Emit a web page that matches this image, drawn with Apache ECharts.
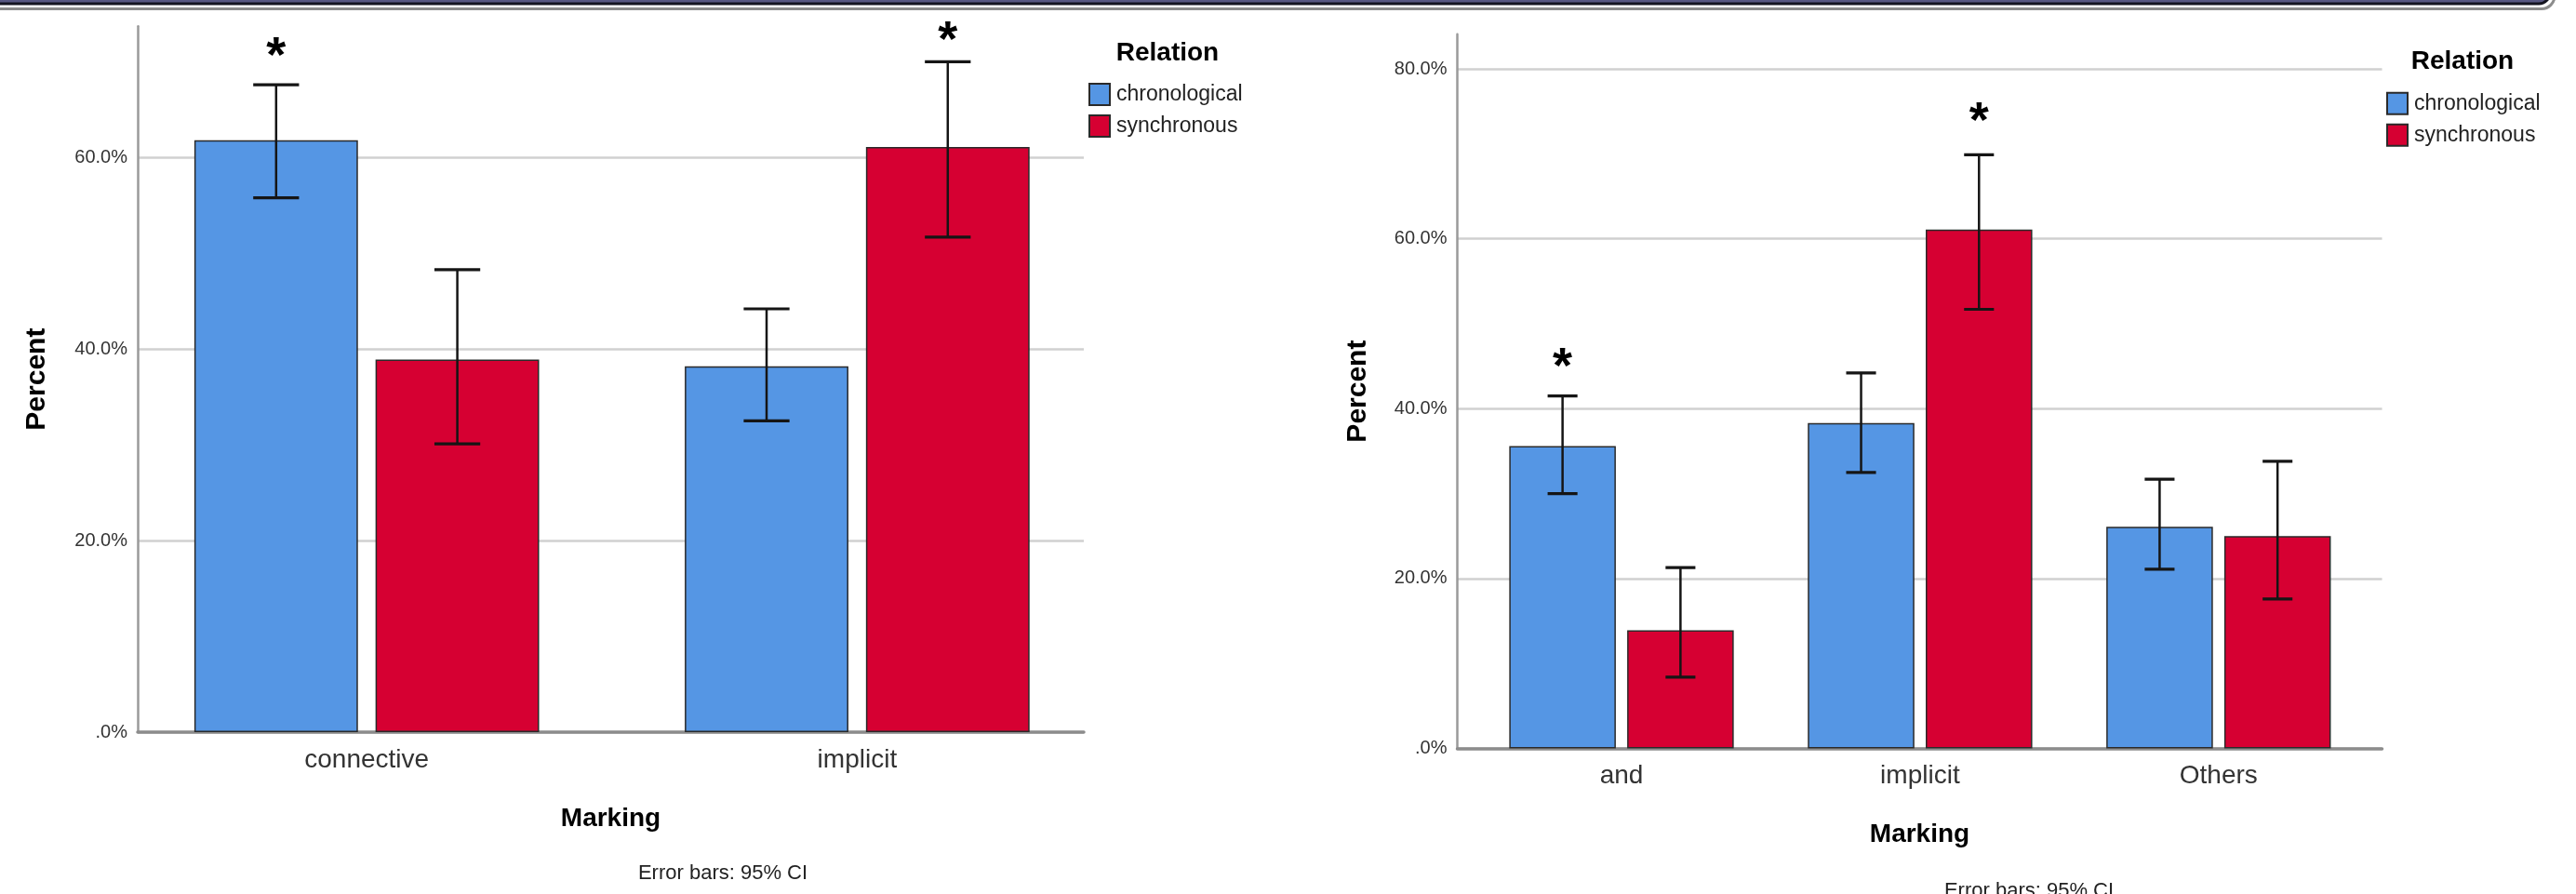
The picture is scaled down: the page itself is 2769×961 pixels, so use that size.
<!DOCTYPE html>
<html><head><meta charset="utf-8">
<script src="https://cdn.jsdelivr.net/npm/echarts@6/dist/echarts.min.js"></script>
<style>html,body{margin:0;padding:0;background:#fff}#c{width:2769px;height:961px}</style>
</head><body><div id="c"></div>
<script>
// ---------- data ----------
const relations = ['chronological', 'synchronous'];

// Chart 1 (left)
const c1Categories = ['connective', 'implicit'];
const c1Chron = [61.8, 38.2];
const c1ChronLow = [55.8, 32.5];
const c1ChronHigh = [67.6, 44.2];
const c1Sync = [38.9, 61.1];
const c1SyncLow = [30.1, 51.7];
const c1SyncHigh = [48.3, 70.0];
const c1ChronStar = [71.6, null];
const c1SyncStar = [null, 73.2];
const c1YMax = 73.7;
const c1TickLabels = ['.0%', '20.0%', '40.0%', '60.0%'];

// Chart 2 (right)
const c2Categories = ['and', 'implicit', 'Others'];
const c2Chron = [35.6, 38.3, 26.1];
const c2ChronLow = [30.0, 32.5, 21.1];
const c2ChronHigh = [41.5, 44.2, 31.7];
const c2Sync = [13.9, 61.1, 25.0];
const c2SyncLow = [8.4, 51.7, 17.6];
const c2SyncHigh = [21.3, 69.9, 33.8];
const c2ChronStar = [46.0, null, null];
const c2SyncStar = [null, 75.0, null];
const c2YMax = 84.1;
const c2TickLabels = ['.0%', '20.0%', '40.0%', '60.0%', '80.0%'];

const yName = 'Percent';
const xName = 'Marking';
const legendTitle = 'Relation';
const footnote = 'Error bars: 95% CI';

// ---------- style ----------
const FONT = '"Liberation Sans", Arial, sans-serif';
const BLUE = '#5596E4';
const RED = '#D60032';
const STAR_FONT = 54;

function errorRender(pos, n, catGap, barGap) {
  return function (params, api) {
    const cat = api.value(0), lo = api.value(1), hi = api.value(2), star = api.value(3);
    const band = api.size([1, 0])[0];
    const bw = band * (1 - catGap) / (n + (n - 1) * barGap);
    const groupW = bw * n + bw * barGap * (n - 1);
    const cx = api.coord([cat, 0])[0] - groupW / 2 + pos * bw * (1 + barGap) + bw / 2;
    const children = [];
    if (isFinite(lo) && isFinite(hi)) {
      const yl = api.coord([cat, lo])[1], yh = api.coord([cat, hi])[1];
      const cap = bw * 0.28;
      const st = { stroke: '#151515', lineWidth: 2.5 };
      const cst = { stroke: '#151515', lineWidth: 3.2 };
      children.push({ type: 'line', shape: { x1: cx, y1: yh, x2: cx, y2: yl }, style: st });
      children.push({ type: 'line', shape: { x1: cx - cap / 2, y1: yh, x2: cx + cap / 2, y2: yh }, style: cst });
      children.push({ type: 'line', shape: { x1: cx - cap / 2, y1: yl, x2: cx + cap / 2, y2: yl }, style: cst });
    }
    if (isFinite(star)) {
      const ys = api.coord([cat, star])[1];
      children.push({ type: 'text', x: cx, y: ys + STAR_FONT * 0.22,
        style: { text: '*', fontSize: STAR_FONT, fontWeight: 'bold', fontFamily: FONT, fill: '#000',
                 align: 'center', verticalAlign: 'middle' } });
    }
    return { type: 'group', children };
  };
}

function ciData(low, high, star) {
  return low.map((l, i) => [i, l, high[i], star[i] == null ? NaN : star[i]]);
}

function tickFormatter(labels) {
  return function (v) {
    const i = Math.round(v / 20);
    return Math.abs(v - i * 20) < 1e-6 && labels[i] !== undefined ? labels[i] : '';
  };
}

const W = 2769, H = 961;
// pixel geometry for the two charts
const L = { axisL: 148, axisR: 1165, barsL: 130.6, barsR: 1185, top: 28.3, bottom: 787, catGap: 0.297, barGap: 0.1075 };
const R = { axisL: 1566.5, axisR: 2560.5, barsL: 1582.55, barsR: 2545.25, top: 36.7, bottom: 804.5, catGap: 0.248, barGap: 0.1065 };

function grids(g) {
  return [
    { left: g.axisL, right: W - g.axisR, top: g.top, bottom: H - g.bottom, outerBoundsMode: 'none' },
    { left: g.barsL, right: W - g.barsR, top: g.top, bottom: H - g.bottom, outerBoundsMode: 'none' }
  ];
}

function axisX(gridIndex, nameGap) {
  return {
    type: 'value', gridIndex, min: 0, max: 1,
    axisLine: { show: true, lineStyle: { color: '#8c8c8c', width: 3.5 } },
    axisTick: { show: false }, axisLabel: { show: false }, splitLine: { show: false },
    name: xName, nameLocation: 'middle', nameGap, nameMoveOverlap: false,
    nameTextStyle: { fontSize: 28, fontWeight: 'bold', color: '#000', fontFamily: FONT }
  };
}
function barsX(gridIndex, cats) {
  return {
    type: 'category', gridIndex, data: cats,
    axisLine: { show: false }, axisTick: { show: false }, splitLine: { show: false },
    axisLabel: { fontSize: 28, color: '#333', margin: 16, fontFamily: FONT, interval: 0 }
  };
}
function axisY(gridIndex, max, labels, nameGap) {
  return {
    type: 'value', gridIndex, min: 0, max, interval: 20,
    axisLine: { show: true, onZero: false, lineStyle: { color: '#9a9a9a', width: 2.5 } },
    axisTick: { show: false },
    axisLabel: { fontSize: 20, color: '#333', margin: 11, fontFamily: FONT, formatter: tickFormatter(labels), showMaxLabel: false },
    splitLine: { show: true, showMaxLine: false, lineStyle: { color: '#d0d0d0', width: 2.5 } },
    name: yName, nameLocation: 'middle', nameGap, nameRotate: 90, nameMoveOverlap: false,
    nameTextStyle: { fontSize: 30, fontWeight: 'bold', color: '#000', fontFamily: FONT }
  };
}
function barsY(gridIndex, max) {
  return { type: 'value', gridIndex, min: 0, max, interval: 20, show: false, splitLine: { show: false } };
}

function barSeries(name, color, xi, yi, data, g) {
  return {
    type: 'bar', name, xAxisIndex: xi, yAxisIndex: yi, data,
    barCategoryGap: (g.catGap * 100) + '%', barGap: (g.barGap * 100) + '%',
    itemStyle: { color, borderColor: '#2a2a2a', borderWidth: 1.5 },
    emphasis: { disabled: true }, z: 2
  };
}
function ciSeries(name, xi, yi, data, pos, n, g) {
  return {
    type: 'custom', name, xAxisIndex: xi, yAxisIndex: yi, data,
    renderItem: errorRender(pos, n, g.catGap, g.barGap), z: 5, silent: true,
    encode: { x: 0, y: [1, 2] }
  };
}

const option = {
  animation: false,
  backgroundColor: '#fff',
  textStyle: { fontFamily: FONT },
  grid: [...grids(L), ...grids(R)],
  xAxis: [axisX(0, 79), barsX(1, c1Categories), axisX(2, 78.5), barsX(3, c2Categories)],
  yAxis: [axisY(0, c1YMax, c1TickLabels, 93), barsY(1, c1YMax), axisY(2, c2YMax, c2TickLabels, 91.5), barsY(3, c2YMax)],
  legend: [
    { data: relations, orient: 'vertical', left: 1170, top: 89, itemWidth: 22, itemHeight: 23, itemGap: 9, padding: 0,
      icon: 'rect', selectedMode: false, textStyle: { fontSize: 23, color: '#222', fontFamily: FONT, padding: [0, 0, 0, 2] } },
    { data: relations, orient: 'vertical', left: 2565, top: 98.7, itemWidth: 22, itemHeight: 23, itemGap: 9, padding: 0,
      icon: 'rect', selectedMode: false, textStyle: { fontSize: 23, color: '#222', fontFamily: FONT, padding: [0, 0, 0, 2] } }
  ],
  series: [
    barSeries(relations[0], BLUE, 1, 1, c1Chron, L),
    barSeries(relations[1], RED, 1, 1, c1Sync, L),
    ciSeries('ci1a', 1, 1, ciData(c1ChronLow, c1ChronHigh, c1ChronStar), 0, 2, L),
    ciSeries('ci1b', 1, 1, ciData(c1SyncLow, c1SyncHigh, c1SyncStar), 1, 2, L),
    barSeries(relations[0], BLUE, 3, 3, c2Chron, R),
    barSeries(relations[1], RED, 3, 3, c2Sync, R),
    ciSeries('ci2a', 3, 3, ciData(c2ChronLow, c2ChronHigh, c2ChronStar), 0, 2, R),
    ciSeries('ci2b', 3, 3, ciData(c2SyncLow, c2SyncHigh, c2SyncStar), 1, 2, R)
  ],
  graphic: [
    // window frame at the top
    { type: 'rect', shape: { x: -20, y: -40, width: 2766, height: 49.5, r: 14 }, style: { fill: 'none', stroke: '#8c8c8c', lineWidth: 3 }, silent: true },
    { type: 'rect', shape: { x: -20, y: -40, width: 2761, height: 44, r: 12 }, style: { fill: '#585882', stroke: '#151520', lineWidth: 3 }, silent: true },
    { type: 'text', x: 1255, y: 57, style: { text: legendTitle, fontSize: 28, fontWeight: 'bold', fill: '#000', fontFamily: FONT, align: 'center', verticalAlign: 'middle' } },
    { type: 'text', x: 2647, y: 66, style: { text: legendTitle, fontSize: 28, fontWeight: 'bold', fill: '#000', fontFamily: FONT, align: 'center', verticalAlign: 'middle' } },
    { type: 'text', x: 777, y: 939, style: { text: footnote, fontSize: 22, fill: '#222', fontFamily: FONT, align: 'center', verticalAlign: 'middle' } },
    { type: 'text', x: 2181, y: 958, style: { text: footnote, fontSize: 22, fill: '#222', fontFamily: FONT, align: 'center', verticalAlign: 'middle' } }
  ]
};

const chart = echarts.init(document.getElementById('c'), null, { renderer: 'canvas', width: W, height: H });
chart.setOption(option);
</script>
</body></html>
